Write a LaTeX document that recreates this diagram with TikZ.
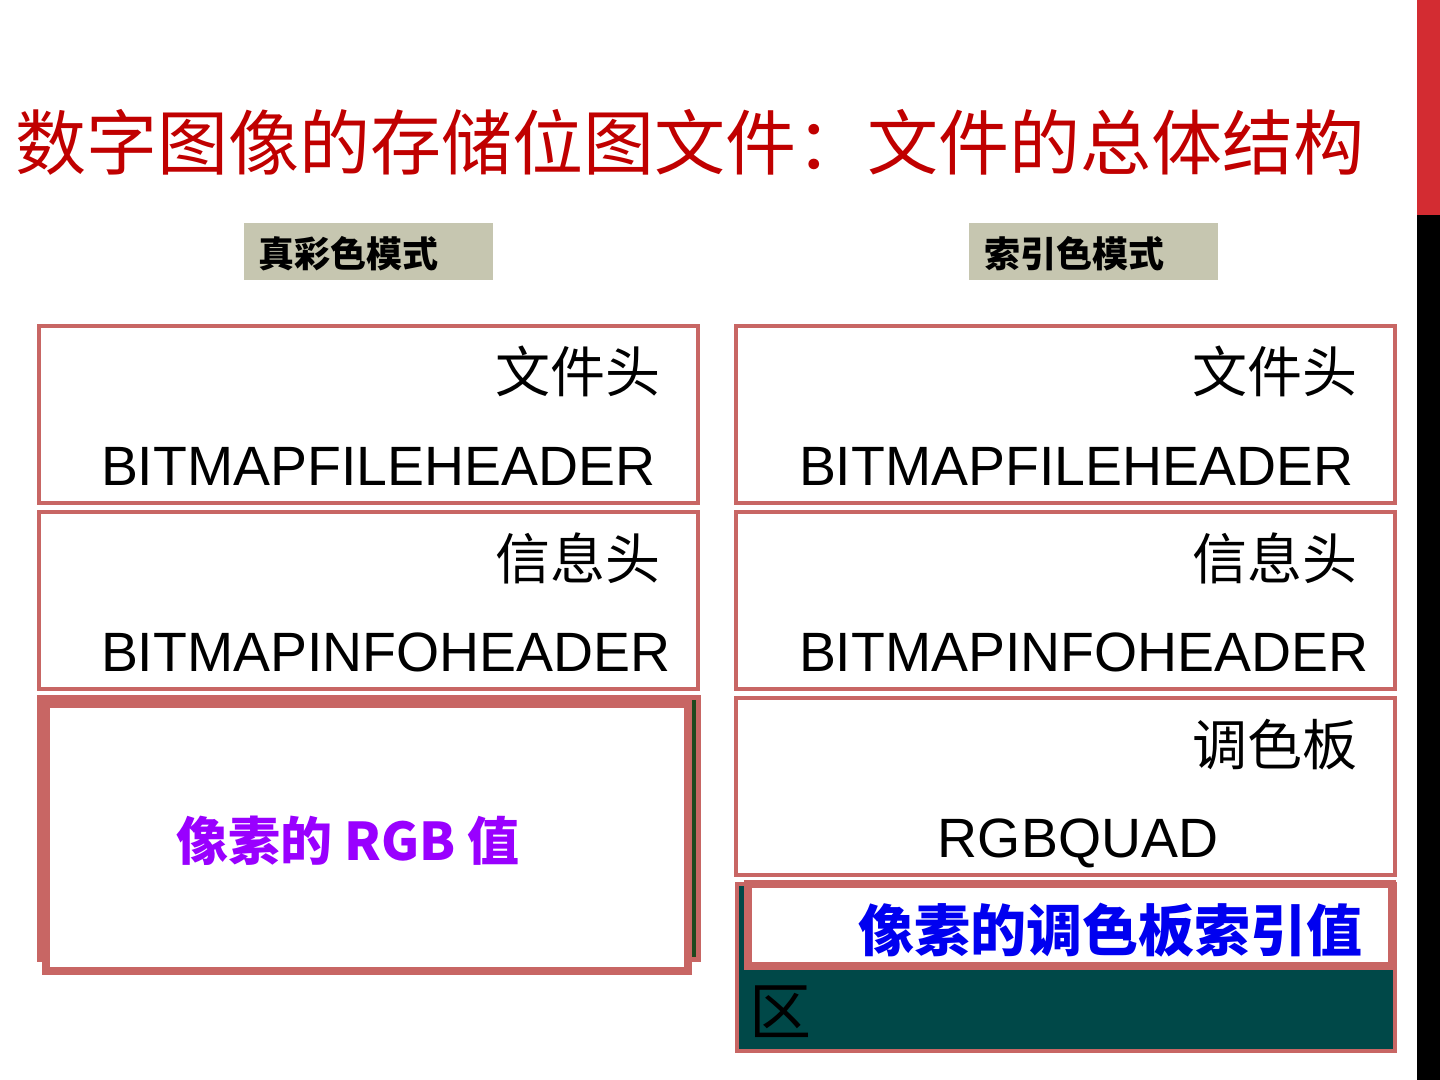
\documentclass[tikz,border=0pt]{standalone}
\usepackage{fontspec}
\setmainfont{Liberation Sans}
\newfontfamily\cjk{Noto Sans CJK SC}
\definecolor{titlered}{RGB}{192,0,0}
\definecolor{salmon}{RGB}{200,102,100}
\definecolor{labelfill}{RGB}{198,198,176}
\definecolor{darkteal}{RGB}{0,72,72}
\definecolor{darkgreen}{RGB}{30,72,30}
\definecolor{barred}{RGB}{211,44,50}
\definecolor{purpletext}{RGB}{153,0,255}
\definecolor{bluetext}{RGB}{0,0,240}
\tikzset{
  txt/.style={inner sep=0pt, outer sep=0pt},
  cjkbox/.style={txt, font=\cjk\fontsize{27.5}{30}\selectfont, anchor=base east},
  latbox/.style={txt, font=\fontsize{27.7}{30}\selectfont, anchor=base west},
  thinbox/.style={draw=salmon, line width=2pt, fill=white},
  lab/.style={txt, font=\cjk\bfseries\fontsize{18}{20}\selectfont, anchor=base west},
}
\begin{document}
\begin{tikzpicture}[x=0.5pt,y=-0.5pt]
\useasboundingbox (0,0) rectangle (1440,1080);
\fill[white] (0,0) rectangle (1440,1080);
% right bar
\fill[barred] (1417,0) rectangle (1440,215);
\fill[black] (1417,215) rectangle (1440,1080);
% title
\node[txt, anchor=base west, text=titlered, font=\cjk\fontsize{35.5}{40}\selectfont] (title) at (15,170) {数字图像的存储位图文件：文件的总体结构};
% labels
\fill[labelfill] (244,223) rectangle (493,280);
\node[lab] (lab1) at (258,268) {真彩色模式};
\fill[labelfill] (969,223) rectangle (1218,280);
\node[lab] (lab2) at (984,268) {索引色模式};
% left column
\draw[thinbox] (39,326) rectangle (698,503);
\node[cjkbox] (l1a) at (660,393) {文件头};
\node[latbox] (l1b) at (101,485) {BITMAPFILEHEADER};
\draw[thinbox] (39,512) rectangle (698,689);
\node[cjkbox] (l2a) at (660,579) {信息头};
\node[latbox] (l2b) at (101,671) {BITMAPINFOHEADER};
% left large box
\draw[draw=salmon, line width=2.5pt, fill=darkgreen] (39.5,697.5) rectangle (698.5,959.5);
\draw[draw=salmon, line width=4pt, fill=white] (46,704) rectangle (688,971);
\node[txt, anchor=base, text=purpletext, font=\cjk\bfseries\fontsize{26}{30}\selectfont] (rgb) at (348,860) {像素的 RGB 值};
% right column
\draw[thinbox] (736,326) rectangle (1395,503);
\node[cjkbox] (r1a) at (1357,393) {文件头};
\node[latbox] (r1b) at (799,485) {BITMAPFILEHEADER};
\draw[thinbox] (736,512) rectangle (1395,689);
\node[cjkbox] (r2a) at (1357,579) {信息头};
\node[latbox] (r2b) at (799,671) {BITMAPINFOHEADER};
\draw[thinbox] (736,698) rectangle (1395,875);
\node[cjkbox] (r3a) at (1357,765) {调色板};
\node[txt, anchor=base, font=\fontsize{27.7}{30}\selectfont] (r3b) at (1078,857) {RGBQUAD};
% right index box
\draw[draw=salmon, line width=2pt, fill=darkteal] (737,884) rectangle (1395,1051);
\draw[draw=salmon, line width=4pt, fill=white] (748,884) rectangle (1392,966);
\node[txt, anchor=base east, text=bluetext, font=\cjk\bfseries\fontsize{28}{30}\selectfont] (idx) at (1362,951) {像素的调色板索引值};
\node[txt, anchor=base west, font=\cjk\fontsize{31}{32}\selectfont] (qu) at (749,1034) {区};
\end{tikzpicture}
\end{document}
